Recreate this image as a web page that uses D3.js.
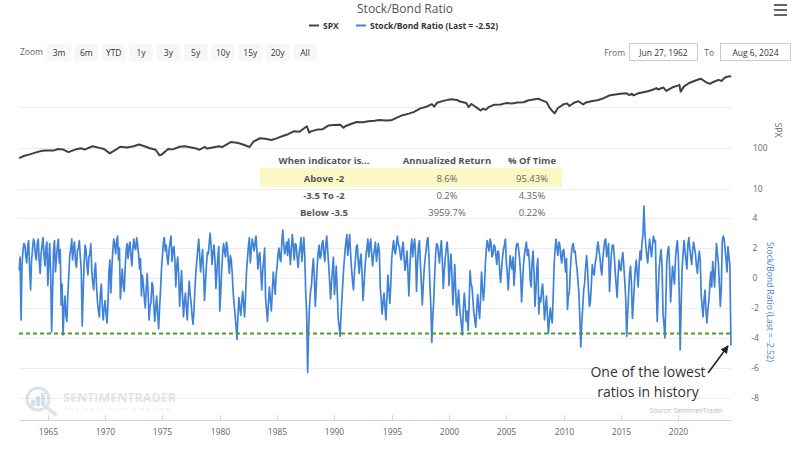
<!DOCTYPE html>
<html><head><meta charset="utf-8">
<script src="https://cdn.jsdelivr.net/npm/d3@7/dist/d3.min.js"></script>
<style>
html,body{margin:0;padding:0;background:#fff;}
svg{display:block;font-family:"Open Sans",sans-serif;}
</style></head>
<body>
<svg id="chart" width="800" height="457"></svg>
<script>
// ---------------- DATA ----------------
const titleText = "Stock/Bond Ratio";
const legendLabels = ["SPX", "Stock/Bond Ratio (Last = -2.52)"];
const zoomButtons = ["3m","6m","YTD","1y","3y","5y","10y","15y","20y","All"];
const fromLabel = "Jun 27, 1962";
const toLabel = "Aug 6, 2024";
const xTickYears = [1965,1970,1975,1980,1985,1990,1995,2000,2005,2010,2015,2020];
const spxTicks = [10, 100];
const spxGrid = [10, 100, 1000];
const ratioTicks = [4, 2, 0, -2, -4, -6, -8];
const threshold = -3.7;

// SPX (decimal year, level)
const spxYears = [1962.5,1962.9,1963.5,1963.9,1964.5,1964.9,1965.5,1965.9,1966.3,1966.8,1967.5,1967.9,1968.2,1968.9,1969.5,1969.9,1970.4,1970.9,1971.3,1971.9,1972.5,1972.95,1973.5,1973.9,1974.4,1974.75,1974.95,1975.5,1975.9,1976.5,1976.95,1977.5,1977.95,1978.2,1978.7,1978.9,1979.5,1979.95,1980.2,1980.95,1981.5,1981.9,1982.6,1982.95,1983.5,1983.95,1984.5,1984.95,1985.5,1985.95,1986.5,1986.95,1987.6,1987.8,1987.95,1988.5,1988.95,1989.5,1989.95,1990.5,1990.8,1990.95,1991.5,1991.95,1992.5,1992.95,1993.5,1993.95,1994.5,1994.95,1995.5,1995.95,1996.5,1996.95,1997.5,1997.95,1998.5,1998.7,1998.95,1999.5,1999.95,2000.2,2000.7,2000.95,2001.5,2001.7,2001.95,2002.5,2002.75,2002.95,2003.2,2003.5,2003.95,2004.5,2004.95,2005.5,2005.95,2006.5,2006.95,2007.5,2007.8,2007.95,2008.5,2008.8,2009.2,2009.5,2009.95,2010.3,2010.5,2010.95,2011.3,2011.7,2011.95,2012.5,2012.95,2013.5,2013.95,2014.5,2014.95,2015.5,2015.7,2015.95,2016.1,2016.5,2016.95,2017.5,2017.95,2018.1,2018.2,2018.7,2018.95,2019.5,2019.95,2020.1,2020.2,2020.5,2020.95,2021.5,2021.95,2022.5,2022.8,2022.95,2023.5,2023.8,2023.95,2024.2,2024.5,2024.6];
const spxValues = [55,62,69,75,83,84,84,92,90,77,91,96,89,107,98,92,72,87,104,100,107,118,106,96,88,64,68,92,90,104,107,100,95,88,103,94,102,107,102,136,131,122,103,140,168,164,153,167,191,211,250,242,330,230,247,273,277,346,353,361,305,330,380,417,415,435,448,466,454,459,545,615,670,740,900,970,1140,990,1229,1370,1469,1500,1450,1320,1220,965,1148,900,800,880,830,980,1111,1120,1211,1190,1248,1270,1418,1500,1550,1468,1280,900,680,920,1115,1190,1030,1257,1340,1120,1257,1360,1426,1600,1848,1960,2058,2100,1900,2043,1860,2100,2238,2420,2673,2820,2600,2900,2400,2940,3230,3380,2300,3100,3750,4300,4766,3800,3580,3840,4450,4200,4770,5250,5500,5250];

// Stock/Bond ratio, monthly from Jul 1962 (last point = Aug 6, 2024)
const ratioStart = [1962, 6];
const ratioValues = [
  0.5,1.4,-2.8,0.9,1.8,2.3,
  2.2,1.4,1.0,2.1,2.5,0.6,-0.8,1.2,1.9,2.6,2.4,1.5,
  1.2,2.3,2.6,1.1,0.3,1.6,2.2,2.7,1.5,0.8,2.0,2.4,
  -0.5,1.1,2.3,0.2,-3.6,-1.0,1.8,2.5,0.4,1.3,2.1,2.6,
  1.0,1.9,-1.8,-0.4,-3.8,-2.1,-1.2,-2.5,-2.9,-1.0,0.2,1.5,
  1.9,2.6,1.2,2.0,2.4,1.1,0.7,1.8,2.0,2.5,1.4,0.6,
  -3.2,-0.9,0.9,2.2,1.9,0.8,0.2,1.4,1.6,2.3,0.5,-0.3,
  -0.8,0.5,1.0,-0.5,-1.6,-2.2,-2.6,-1.1,-0.4,-1.8,-2.8,-2.0,
  -1.5,-2.4,-3.0,-1.7,0.4,1.2,-1.0,0.6,1.8,2.6,2.2,1.6,
  2.5,2.8,1.2,2.0,-1.4,-0.3,0.6,-0.5,-0.9,0.7,1.8,2.3,
  1.3,2.1,2.4,1.5,0.8,1.9,2.6,2.0,1.9,2.7,2.2,1.6,
  0.6,1.3,-1.2,0.2,-0.4,-1.3,-2.0,-0.8,0.3,-1.0,-2.8,-1.9,
  -1.6,-0.3,-0.5,-1.8,-2.9,-2.0,-1.2,-2.4,-3.4,-2.0,-0.8,0.6,
  1.5,2.4,2.7,1.8,2.2,1.3,0.9,1.9,2.4,2.8,1.1,1.9,
  2.1,1.2,-0.6,0.8,1.4,0.2,-1.9,-0.7,0.5,-1.2,-2.6,-1.6,
  -1.0,-2.0,-2.8,-1.4,-0.2,-1.1,-1.6,-2.5,-3.1,-2.2,-0.7,0.4,
  1.2,2.0,2.6,1.5,0.4,1.2,1.9,0.5,-1.5,-0.4,0.8,1.7,
  1.6,2.4,3.0,2.1,0.9,1.7,2.2,1.2,-0.7,0.4,1.4,2.1,
  -2.2,-1.0,0.5,1.6,2.3,1.8,1.4,2.4,2.0,1.1,0.3,1.5,
  1.2,0.3,-0.9,-1.7,-2.4,-3.2,-4.1,-2.6,-1.3,-2.0,-2.5,-1.6,
  -0.9,-1.8,-2.6,-1.2,0.4,1.3,2.1,2.7,1.0,1.9,2.6,2.2,
  1.8,2.4,2.8,1.7,0.6,1.5,1.7,0.4,-0.8,0.5,1.2,2.0,
  -1.4,-2.2,-2.9,-1.6,-0.6,-1.5,-2.2,-0.9,0.4,-0.4,-1.1,0.2,
  0.8,1.6,2.0,1.3,1.1,2.4,3.2,2.2,1.6,2.0,2.4,1.5,
  2.6,1.8,0.9,2.0,2.9,2.1,1.2,2.3,2.2,1.4,0.7,1.6,
  2.0,2.7,1.1,1.9,2.7,1.5,-1.0,-2.4,-6.3,-3.5,-1.8,-0.9,
  -0.5,0.6,1.3,0.1,-1.9,-0.6,0.8,1.7,2.2,1.3,1.5,2.3,
  2.5,1.6,1.1,2.2,2.8,1.8,0.9,-0.2,-1.4,-0.3,0.6,1.4,
  -1.1,-0.2,0.8,-0.9,-2.7,-3.2,-3.9,-2.4,-1.2,-0.1,0.9,1.7,
  2.4,2.9,1.5,2.2,2.9,1.6,0.6,-0.2,-0.8,0.4,1.2,2.1,
  2.2,1.1,0.3,1.2,1.6,0.2,-1.5,-0.5,0.7,1.5,2.0,2.6,
  1.4,2.2,2.6,1.6,0.8,1.5,1.9,2.4,1.1,1.7,2.3,1.8,
  -0.6,-1.5,-2.4,-1.6,-1.0,-2.0,-2.8,-1.3,0.2,-0.7,-1.7,-0.5,
  1.3,2.0,2.5,1.8,1.6,2.3,2.8,2.2,2.1,1.5,1.2,2.0,
  2.4,1.3,0.5,1.1,1.8,0.4,-1.2,0.6,2.0,2.6,1.4,2.2,
  2.6,1.5,-0.9,0.9,2.1,2.5,1.0,-0.3,-1.8,-0.5,0.6,1.3,
  1.9,2.5,2.7,1.4,-0.4,-1.9,-4.3,-2.6,-1.5,0.2,1.6,2.3,
  2.2,1.6,1.0,1.9,2.5,1.2,-0.7,0.4,1.3,1.9,2.4,1.6,
  -0.5,0.7,1.6,0.3,-1.8,-0.6,0.9,-0.9,-2.5,-1.6,-0.8,-1.9,
  -2.6,-3.2,-3.8,-2.0,-1.0,-1.9,-2.9,-2.2,-3.5,-1.8,0.5,-0.4,
  -0.6,-1.5,-2.3,-2.8,-3.3,-2.1,-1.1,-2.0,-2.7,-1.4,0.4,-0.7,
  -1.5,-0.6,0.8,1.9,2.5,2.1,1.8,2.6,2.3,1.4,1.6,2.2,
  2.1,1.5,0.9,1.8,1.7,0.5,-0.3,0.6,1.4,1.9,2.2,2.6,
  1.0,0.2,-0.8,0.4,1.5,0.9,0.6,1.4,-0.5,0.5,1.9,2.3,
  2.3,1.8,1.2,0.2,-1.6,-0.3,0.9,1.6,2.0,2.4,1.5,1.9,
  1.2,-0.2,-0.6,1.1,1.8,0.4,-1.9,-0.8,0.7,1.3,-2.4,-1.3,
  -1.6,-0.8,-0.4,-1.5,-2.8,-2.0,-1.2,-2.4,-3.7,-2.9,-2.0,-2.6,
  -3.0,-1.2,0.8,1.9,2.6,2.0,1.5,2.4,2.2,1.4,1.0,1.8,
  1.9,1.2,0.4,1.3,-2.1,-1.2,-0.9,0.5,1.6,2.1,2.3,1.7,
  1.8,1.1,0.6,-0.2,-1.0,-2.8,-4.6,-3.0,-1.9,-0.8,-0.3,0.7,
  1.5,0.6,-0.8,-1.9,-1.6,-0.4,0.9,0.3,0.2,1.0,1.3,2.0,
  2.4,1.8,1.4,0.6,0.2,1.3,1.9,2.5,2.6,1.4,1.8,2.3,
  -0.9,0.5,1.6,2.2,2.2,1.5,0.4,-0.5,-1.3,0.2,1.2,0.6,
  0.5,1.3,1.7,0.8,-0.2,-1.4,-3.9,-2.4,-1.1,0.3,0.8,-0.4,
  -2.7,-1.6,-0.5,0.6,1.2,0.3,-0.6,0.9,1.8,1.2,2.4,2.9,
  4.8,3.0,2.2,1.5,1.0,1.9,2.6,2.0,1.4,2.2,2.8,2.4,
  2.5,-0.8,-2.9,-1.0,0.6,1.4,1.9,0.8,-2.4,-3.1,-4.0,-1.6,
  1.2,1.8,2.1,0.6,-1.6,-0.4,0.8,0.2,-0.4,1.2,2.0,2.5,
  1.5,-1.2,-4.8,-1.9,0.6,1.6,2.5,1.8,1.2,0.6,2.2,2.7,
  2.0,1.4,0.9,1.8,2.4,2.0,1.6,0.8,0.3,1.2,1.8,1.1,
  -1.2,-2.0,-2.6,-1.4,-0.8,-2.2,-3.0,-2.1,-1.5,-0.5,0.4,-0.6,
  1.1,0.2,-0.6,0.9,2.3,1.6,1.0,-0.4,-1.9,-0.8,2.4,2.8,
  2.6,1.9,1.2,0.4,2.1,1.5,0.8,-4.5
];

const tableHeader = ["When indicator is...", "Annualized Return", "% Of Time"];
const tableRows = [
  ["Above -2", "8.6%", "95.43%"],
  ["-3.5 To -2", "0.2%", "4.35%"],
  ["Below -3.5", "3959.7%", "0.22%"]
];
const annotationLines = ["One of the lowest", "ratios in history"];
const sourceText = "Source: SentimenTrader";

// ---------------- HELPERS ----------------
function decYear(y){
  const yr = Math.floor(y);
  const start = new Date(yr,0,1), end = new Date(yr+1,0,1);
  return new Date(+start + (y-yr)*(end-start));
}
const startDate = new Date(1962,5,27), endDate = new Date(2024,7,6);
const spxData = spxYears.map((y,i)=>({d:decYear(y), v:spxValues[i]}));
const ratioData = ratioValues.map((v,i)=>{
  let d = d3.timeMonth.offset(new Date(ratioStart[0], ratioStart[1], 1), i);
  if (d > endDate || i === ratioValues.length-1) d = endDate;
  return {d, v};
});

// ---------------- SCALES ----------------
const svg = d3.select("#chart");
const x = d3.scaleTime().domain([startDate, endDate]).range([19, 731]);
const ySpx = d3.scaleLog().domain([10, 1000]).range([188.5, 106.5]);
const yRatio = d3.scaleLinear().domain([-8, 4]).range([398, 218]);

// ---------------- GRID ----------------
const grid = svg.append("g").attr("stroke","#ececec").attr("stroke-width",1);
spxGrid.forEach(t=>grid.append("line").attr("x1",19).attr("x2",731)
  .attr("y1",Math.round(ySpx(t))+0.5).attr("y2",Math.round(ySpx(t))+0.5));
ratioTicks.forEach(t=>grid.append("line").attr("x1",19).attr("x2",731)
  .attr("y1",Math.round(yRatio(t))+0.5).attr("y2",Math.round(yRatio(t))+0.5));

// ---------------- TITLE / LEGEND ----------------
svg.append("text").attr("x",405).attr("y",13).attr("text-anchor","middle")
  .attr("font-size",12).attr("fill","#555").text(titleText);
// hamburger
[5,10,15].forEach(yy=>svg.append("line").attr("x1",774).attr("x2",787)
  .attr("y1",yy).attr("y2",yy).attr("stroke","#666").attr("stroke-width",2));

const leg = svg.append("g").attr("font-size",8.5).attr("font-weight","bold").attr("fill","#333");
leg.append("line").attr("x1",309).attr("x2",319).attr("y1",25.5).attr("y2",25.5)
  .attr("stroke","#444").attr("stroke-width",2);
leg.append("text").attr("x",323).attr("y",28.5).text(legendLabels[0]);
leg.append("line").attr("x1",356).attr("x2",366).attr("y1",25.5).attr("y2",25.5)
  .attr("stroke","#3f82d8").attr("stroke-width",2);
leg.append("text").attr("x",370).attr("y",28.5).text(legendLabels[1]);

// ---------------- RANGE SELECTOR ----------------
const rs = svg.append("g").attr("font-size",8.5).attr("fill","#333");
rs.append("text").attr("x",20).attr("y",55).attr("fill","#666").text("Zoom");
const btnX = d3.scaleBand().domain(zoomButtons).range([47, 317]).paddingInner(0.12);
zoomButtons.forEach(b=>{
  rs.append("rect").attr("x",btnX(b)).attr("y",44).attr("width",btnX.bandwidth())
    .attr("height",17).attr("fill","#f7f7f7");
  rs.append("text").attr("x",btnX(b)+btnX.bandwidth()/2).attr("y",55.5)
    .attr("text-anchor","middle").text(b);
});
rs.append("text").attr("x",625).attr("y",55.5).attr("text-anchor","end").attr("fill","#666").text("From");
rs.append("rect").attr("x",629.5).attr("y",43.5).attr("width",68).attr("height",17)
  .attr("fill","#fff").attr("stroke","#ccc");
rs.append("text").attr("x",663.5).attr("y",55.5).attr("text-anchor","middle").text(fromLabel);
rs.append("text").attr("x",714).attr("y",55.5).attr("text-anchor","end").attr("fill","#666").text("To");
rs.append("rect").attr("x",720.5).attr("y",43.5).attr("width",70).attr("height",17)
  .attr("fill","#fff").attr("stroke","#ccc");
rs.append("text").attr("x",755.5).attr("y",55.5).attr("text-anchor","middle").text(toLabel);

// ---------------- WATERMARK ----------------
const wm = svg.append("g").attr("opacity",0.5);
wm.append("circle").attr("cx",38).attr("cy",399).attr("r",11).attr("fill","none")
  .attr("stroke","#b9c6d6").attr("stroke-width",3);
wm.append("line").attr("x1",46).attr("y1",407).attr("x2",55).attr("y2",414)
  .attr("stroke","#b9c6d6").attr("stroke-width",4).attr("stroke-linecap","round");
[[31,400,4,6],[36,396,4,10],[41,393,4,13]].forEach(r=>wm.append("rect")
  .attr("x",r[0]).attr("y",r[1]).attr("width",r[2]).attr("height",r[3]).attr("fill","#a9c3e0"));
wm.append("text").attr("x",63).attr("y",402).attr("font-size",12.5).attr("font-weight","bold")
  .attr("fill","#c3cfdc").text("SENTIMENTRADER");
wm.append("text").attr("x",64).attr("y",411).attr("font-size",6).attr("letter-spacing",2.2)
  .attr("fill","#cfd8e2").text("Analysis over emotion");

// ---------------- SERIES ----------------
svg.append("path").datum(spxData)
  .attr("fill","none").attr("stroke","#404040").attr("stroke-width",2)
  .attr("stroke-linejoin","round")
  .attr("d", d3.line().x(d=>x(d.d)).y(d=>ySpx(d.v)));

svg.append("path").datum(ratioData)
  .attr("fill","none").attr("stroke","#3f82d8").attr("stroke-width",1.7)
  .attr("stroke-linejoin","round")
  .attr("d", d3.line().x(d=>x(d.d)).y(d=>yRatio(d.v)));

svg.append("line").attr("x1",19).attr("x2",731)
  .attr("y1",yRatio(threshold)).attr("y2",yRatio(threshold))
  .attr("stroke","#4f9a2c").attr("stroke-width",2).attr("stroke-dasharray","4,3");

// ---------------- TABLE ----------------
const tb = svg.append("g").attr("font-size",9.5);
const colX = [324, 447, 532];
tb.append("rect").attr("x",260).attr("y",168).attr("width",302).attr("height",19).attr("fill","#fbf8c4");
tableHeader.forEach((h,i)=>tb.append("text").attr("x",colX[i]).attr("y",163.5)
  .attr("text-anchor","middle").attr("font-weight","bold").attr("fill","#555").text(h));
tableRows.forEach((r,ri)=>r.forEach((c,ci)=>tb.append("text")
  .attr("x",colX[ci]).attr("y",181.5+ri*17.3).attr("text-anchor","middle")
  .attr("font-weight", ci===0?"bold":"normal").attr("fill", ci===0?"#555":"#666").text(c)));

// ---------------- AXES ----------------
const xAxis = svg.append("g").attr("transform","translate(0,420)");
xAxis.append("line").attr("x1",19).attr("x2",731).attr("y1",0.5).attr("y2",0.5).attr("stroke","#ccd6eb");
xTickYears.forEach(yr=>{
  const xx = Math.round(x(new Date(yr,0,1)))+0.5;
  xAxis.append("line").attr("x1",xx).attr("x2",xx).attr("y1",-5).attr("y2",0.5).attr("stroke","#ccd6eb");
  xAxis.append("text").attr("x",xx).attr("y",14.5).attr("text-anchor","middle")
    .attr("font-size",8.5).attr("fill","#666").text(yr);
});

const ay = svg.append("g").attr("font-size",8.5).attr("fill","#666");
spxTicks.forEach(t=>ay.append("text").attr("x",753).attr("y",ySpx(t)+3).text(t));
ratioTicks.forEach(t=>ay.append("text").attr("x",755).attr("y",yRatio(t)+3).attr("text-anchor","middle").text(t));
ay.append("text").attr("transform","translate(775,130) rotate(90)").attr("text-anchor","middle").text("SPX");
ay.append("text").attr("transform","translate(767,302) rotate(90)").attr("text-anchor","middle")
  .attr("fill","#3f82d8").text("Stock/Bond Ratio (Last = -2.52)");

// ---------------- ANNOTATION ----------------
svg.append("defs").append("marker").attr("id","ah").attr("viewBox","0 0 10 10")
  .attr("refX",9).attr("refY",5).attr("markerWidth",5).attr("markerHeight",5).attr("orient","auto")
  .append("path").attr("d","M0,0L10,5L0,10z").attr("fill","#222");
svg.append("line").attr("x1",708).attr("y1",373).attr("x2",728).attr("y2",346)
  .attr("stroke","#222").attr("stroke-width",1.6).attr("marker-end","url(#ah)");
annotationLines.forEach((t,i)=>svg.append("text").attr("x",648).attr("y",377+i*20)
  .attr("text-anchor","middle").attr("font-size",14).attr("fill","#333").text(t));
svg.append("text").attr("x",723).attr("y",413).attr("text-anchor","end")
  .attr("font-size",6.5).attr("fill","#bbb").text(sourceText);
</script>
</body></html>
